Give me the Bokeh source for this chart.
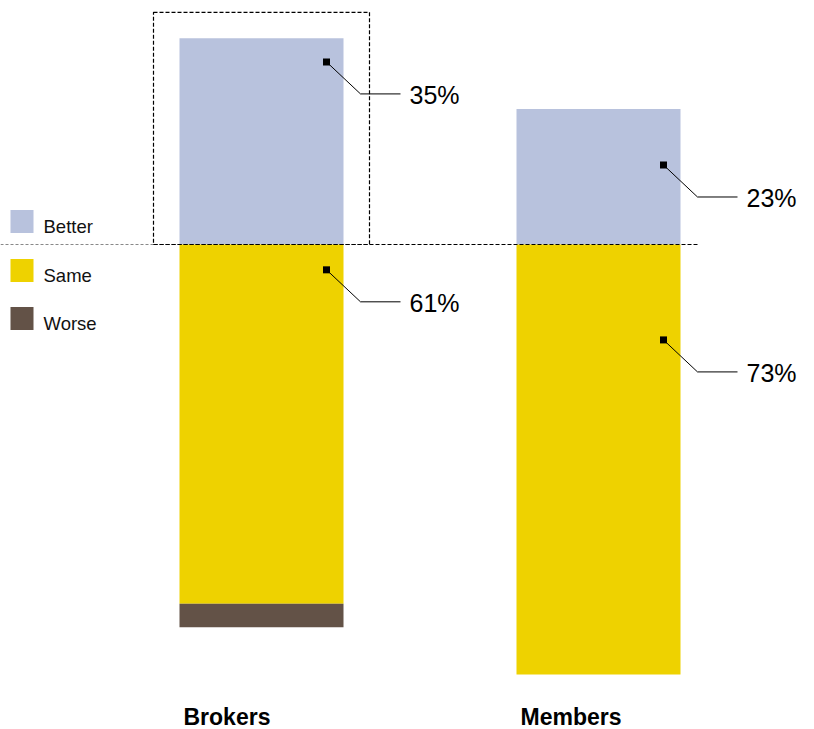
from bokeh.plotting import figure
from bokeh.models import Range1d, ColumnDataSource
from bokeh.core.properties import value
from bokeh.embed import file_html
from bokeh.resources import INLINE

# ---- data ----
groups = ["Brokers", "Members"]
better = [35, 23]
same = [61, 73]
worse = [4, 0]
series_names = ["Better", "Same", "Worse"]
colors = ["#b8c2dd", "#eed200", "#635247"]

# annotation anchors (value units, inside the segment) -- layout only
better_anchor = [31.0, 13.5]
same_anchor = [-4.3, -16.2]

# ---- layout ----
W, H = 814, 729
BASE_PX = 244
S = 5.89  # px per percentage point
centers = [261, 598]
bar_w = 164

def v(py):
    return (BASE_PX - py) / S

p = figure(width=W, height=H, output_backend="svg", toolbar_location=None,
           x_range=Range1d(0, W), y_range=Range1d(v(H), v(0)),
           min_border=0, outline_line_color=None)
p.axis.visible = False
p.grid.visible = False
p.background_fill_color = "white"
p.border_fill_color = "white"

# stacked bars (better above baseline, same + worse below)
src = ColumnDataSource(dict(
    x=centers,
    b_top=better, b_bot=[0] * len(groups),
    s_top=[0] * len(groups), s_bot=[-s for s in same],
    w_top=[-s for s in same], w_bot=[-(s + w) for s, w in zip(same, worse)],
))
p.vbar(x="x", width=bar_w, top="b_top", bottom="b_bot", source=src,
       fill_color=colors[0], line_color=None)
p.vbar(x="x", width=bar_w, top="s_top", bottom="s_bot", source=src,
       fill_color=colors[1], line_color=None)
p.vbar(x="x", width=bar_w, top="w_top", bottom="w_bot", source=src,
       fill_color=colors[2], line_color=None)

# baseline dashed lines
box_l = centers[0] - bar_w / 2 - 26
box_r = centers[0] + bar_w / 2 + 26
p.segment(x0=[0], y0=[0], x1=[box_l], y1=[0], line_color="#888888",
          line_width=1, line_dash="3 2")
p.segment(x0=[box_l], y0=[0], x1=[centers[1] + bar_w / 2 + 18], y1=[0],
          line_color="black", line_width=1.2, line_dash="4 2")

# dashed highlight box around Brokers "Better"
box_top = better[0] + 26 / S
p.quad(left=[box_l], right=[box_r], top=[box_top], bottom=[0],
       fill_color=None, line_color="black", line_width=1.2, line_dash="4 2")

# leader lines + labels
mx, my, lx, ly, txt = [], [], [], [], []
xs_lines, ys_lines = [], []
for i, c in enumerate(centers):
    for val, anc in ((better[i], better_anchor[i]), (same[i], same_anchor[i])):
        x0 = c + bar_w / 2 - 17
        y0 = anc
        y1 = anc - 32 / S
        mx.append(x0); my.append(y0)
        xs_lines.append([x0, x0 + 34, x0 + 74])
        ys_lines.append([y0, y1, y1])
        lx.append(x0 + 83); ly.append(y1 - 1 / S)
        txt.append(f"{val}%")
p.multi_line(xs=xs_lines, ys=ys_lines, line_color="black", line_width=1)
p.scatter(x=mx, y=my, marker="square", size=7, fill_color="black", line_color=None)
p.text(x=lx, y=ly, text=txt, text_font=value("Liberation Sans"),
       text_font_size="25px", text_baseline="middle", text_align="left",
       text_color="black")

# legend
leg_y_px = [221, 270, 318]
p.scatter(x=[21.5] * 3, y=[v(py) for py in leg_y_px], marker="square", size=23,
          fill_color=colors, line_color=None)
p.text(x=[43] * 3, y=[v(py + 5) for py in leg_y_px], text=series_names,
       text_font=value("Liberation Sans"), text_font_size="18.5px",
       text_baseline="middle", text_align="left", text_color="#111111")

# category labels
p.text(x=[c - bar_w / 2 + 4 for c in centers], y=[v(716)] * len(groups), text=groups,
       text_font=value("Liberation Sans"), text_font_size="23px",
       text_font_style="bold", text_baseline="middle", text_align="left",
       text_color="black")

open("out.html", "w").write(file_html(p, INLINE))
